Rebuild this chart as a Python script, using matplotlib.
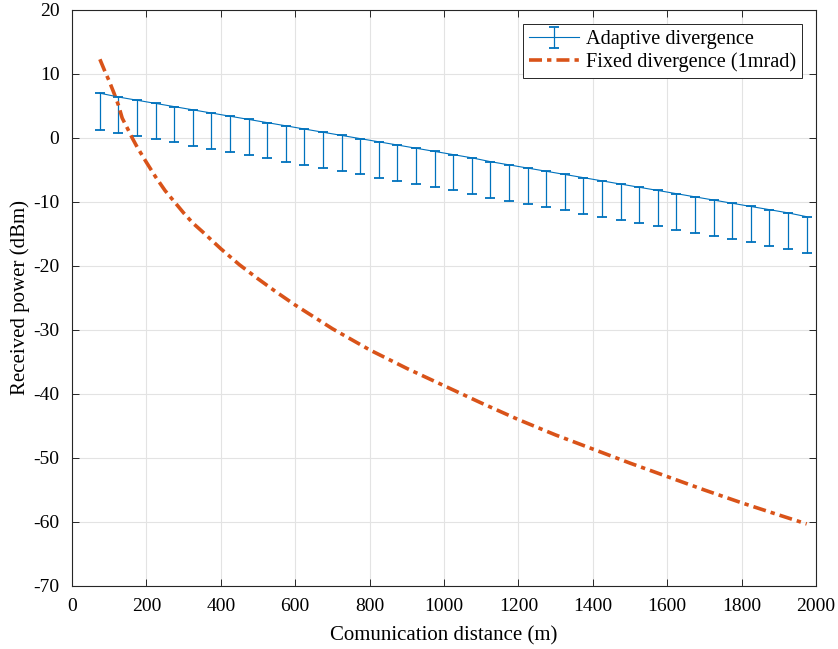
import matplotlib
matplotlib.use("Agg")
import matplotlib.pyplot as plt

# Adaptive divergence: distances (m), received power (dBm), lower error (dB)
adaptive_x = [75, 125, 175, 225, 275, 325, 375, 425, 475, 525, 575, 625, 675,
              725, 775, 825, 875, 925, 975, 1025, 1075, 1125, 1175, 1225, 1275,
              1325, 1375, 1425, 1475, 1525, 1575, 1625, 1675, 1725, 1775, 1825,
              1875, 1925, 1975]
adaptive_y = [7.0, 6.4, 5.9, 5.4, 4.9, 4.4, 3.9, 3.4, 2.9, 2.4, 1.9, 1.4, 0.9,
              0.4, -0.1, -0.6, -1.1, -1.6, -2.1, -2.6, -3.1, -3.7, -4.2, -4.7,
              -5.2, -5.7, -6.2, -6.7, -7.2, -7.7, -8.2, -8.7, -9.2, -9.7, -10.2,
              -10.7, -11.2, -11.7, -12.3]
adaptive_err_low = [5.7, 5.6, 5.6, 5.6, 5.6, 5.6, 5.6, 5.6, 5.6, 5.6, 5.6, 5.6,
                    5.6, 5.6, 5.6, 5.6, 5.6, 5.6, 5.6, 5.6, 5.6, 5.6, 5.6, 5.6,
                    5.6, 5.6, 5.6, 5.6, 5.6, 5.6, 5.6, 5.6, 5.6, 5.6, 5.6, 5.6,
                    5.6, 5.6, 5.6]

# Fixed divergence (1 mrad)
fixed_x = [75, 90, 100, 113, 125, 135, 150, 162, 175, 200, 225, 250, 270, 300,
           325, 350, 400, 450, 500, 550, 600, 700, 800, 900, 1000, 1100, 1200,
           1300, 1400, 1500, 1600, 1700, 1800, 1900, 1975]
fixed_y = [12.3, 10.2, 8.9, 7.0, 5.1, 3.1, 1.4, 0.0, -1.4, -3.8, -6.1, -8.2,
           -9.6, -11.7, -13.3, -14.6, -17.3, -19.8, -22.0, -24.1, -26.1, -29.8,
           -33.1, -36.0, -38.7, -41.4, -44.0, -46.4, -48.6, -50.8, -52.9, -55.0,
           -57.0, -58.9, -60.3]

x_ticks = list(range(0, 2001, 200))
y_ticks = list(range(-70, 21, 10))

plt.rcParams['font.family'] = ['Liberation Serif', 'DejaVu Serif']
plt.rcParams['font.size'] = 14
plt.rcParams['axes.unicode_minus'] = False

fig = plt.figure(figsize=(8.38, 6.49), dpi=100)
ax = fig.add_axes([0.0859, 0.0971, 0.8878, 0.8875])

h1 = ax.errorbar(adaptive_x, adaptive_y,
                 yerr=[adaptive_err_low, [0] * len(adaptive_err_low)],
                 color='#0072BD', linewidth=0.8, elinewidth=0.9, capsize=3.6,
                 capthick=1.3, label='Adaptive divergence')
h2, = ax.plot(fixed_x, fixed_y, color='#D95319', linewidth=2.6,
              dashes=[3.6, 1.4, 1.2, 1.4], label='Fixed divergence (1mrad)')

ax.set_xlim(0, 2000)
ax.set_ylim(-70, 20)
ax.set_xticks(x_ticks)
ax.set_yticks(y_ticks)
ax.grid(True, color='#e3e3e3', linewidth=0.8)
ax.set_axisbelow(True)
ax.tick_params(direction='in', top=True, right=True, length=5, width=0.7,
               colors='#262626', labelcolor='black', labelsize=14)
ax.tick_params(axis='x', pad=9)
ax.tick_params(axis='y', pad=9)
for s in ax.spines.values():
    s.set_color('#262626')
    s.set_linewidth(0.8)

ax.set_xlabel('Comunication distance (m)', fontsize=15, labelpad=8)
ax.set_ylabel('Received power (dBm)', fontsize=15, labelpad=2)

leg = ax.legend(handles=[h1, h2], loc='upper right', fontsize=14.6,
                fancybox=False, framealpha=1, edgecolor='#262626',
                borderaxespad=0.7, handlelength=2.5, borderpad=0.3,
                labelspacing=0.15, handletextpad=0.3)
leg.get_frame().set_linewidth(0.7)

fig.savefig('out.png', dpi=100)
